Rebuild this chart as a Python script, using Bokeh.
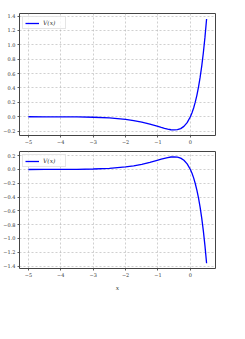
from bokeh.plotting import figure
from bokeh.layouts import column
from bokeh.models import Range1d, FixedTicker, Legend, LegendItem
from bokeh.embed import file_html
from bokeh.resources import INLINE

x_vals = [-5.0, -4.5, -4.0, -3.5, -3.0, -2.5, -2.0, -1.75, -1.5, -1.25, -1.0, -0.9, -0.8, -0.7, -0.6,
          -0.5, -0.4, -0.3, -0.2, -0.1, 0.0, 0.05, 0.1, 0.15, 0.2, 0.25, 0.3, 0.35, 0.4, 0.45, 0.5]
v_top = [-0.000, -0.001, -0.001, -0.003, -0.007, -0.017, -0.037, -0.053, -0.075, -0.103, -0.135, -0.149,
         -0.162, -0.173, -0.181, -0.184, -0.180, -0.165, -0.134, -0.082, 0.000, 0.055, 0.122, 0.203,
         0.298, 0.412, 0.547, 0.705, 0.890, 1.107, 1.359]
v_bottom = [0.000, 0.001, 0.001, 0.003, 0.007, 0.017, 0.037, 0.053, 0.075, 0.103, 0.135, 0.149,
            0.162, 0.173, 0.181, 0.184, 0.180, 0.165, 0.134, 0.082, 0.000, -0.055, -0.122, -0.203,
            -0.298, -0.412, -0.547, -0.705, -0.890, -1.107, -1.359]
x_ticks = [-5, -4, -3, -2, -1, 0]
y_ticks_top = [-0.2, 0.0, 0.2, 0.4, 0.6, 0.8, 1.0, 1.2, 1.4]
y_ticks_bottom = [-1.4, -1.2, -1.0, -0.8, -0.6, -0.4, -0.2, 0.0, 0.2]
legend_label = "V(x)"
x_label = "x"

FONT = "DejaVu Serif"


def fmt(v, dec):
    s = f"{v:.{dec}f}"
    return s.replace("-", "\u2212")


def make(yv, yticks, yr, height, top_border, bottom_border, xlabel=None):
    p = figure(width=237, height=height, output_backend="svg", toolbar_location=None,
               x_range=Range1d(-5.275, 0.775), y_range=Range1d(*yr),
               min_border_left=19, min_border_right=22, min_border_top=top_border,
               min_border_bottom=bottom_border)
    r = p.line(x_vals, yv, line_color="#0000ff", line_width=1.3)
    for ax in (p.xaxis[0], p.yaxis[0]):
        ax.axis_line_color = None
        ax.major_tick_line_color = "#333333"
        ax.major_tick_line_width = 0.8
        ax.major_tick_out = 2
        ax.major_tick_in = 0
        ax.minor_tick_line_color = None
        ax.major_label_text_font = FONT
        ax.major_label_text_font_size = "5px"
        ax.major_label_text_color = "#333333"
        ax.major_label_standoff = 2
    p.xaxis.ticker = FixedTicker(ticks=x_ticks)
    p.xaxis.major_label_overrides = {t: fmt(t, 0) for t in x_ticks}
    p.yaxis.ticker = FixedTicker(ticks=yticks)
    p.yaxis.major_label_overrides = {t: fmt(t, 1) for t in yticks}
    if xlabel:
        p.xaxis.axis_label = xlabel
        p.xaxis.axis_label_text_font = FONT
        p.xaxis.axis_label_text_font_style = "italic"
        p.xaxis.axis_label_text_font_size = "6px"
        p.xaxis.axis_label_standoff = 4
        p.xaxis.axis_label_text_color = "#333333"
    for g in (p.xgrid[0], p.ygrid[0]):
        g.grid_line_color = "#b0b0b0"
        g.grid_line_dash = "2 2"
        g.grid_line_width = 0.6
    p.outline_line_color = "#444444"
    p.outline_line_width = 1
    leg = Legend(items=[LegendItem(label=legend_label, renderers=[r])], location="top_left")
    leg.label_text_font = FONT
    leg.label_text_font_style = "italic"
    leg.label_text_font_size = "6px"
    leg.label_text_color = "#333333"
    leg.glyph_width = 14
    leg.glyph_height = 6
    leg.label_height = 6
    leg.label_standoff = 4
    leg.padding = 2
    leg.spacing = 0
    leg.margin = 3
    leg.border_line_color = "#cccccc"
    leg.border_line_width = 0.8
    leg.background_fill_alpha = 0.8
    p.add_layout(leg)
    return p


p1 = make(v_top, y_ticks_top, (-0.261, 1.436), 146, 13, 11)
p2 = make(v_bottom, y_ticks_bottom, (-1.436, 0.261), 147, 5, 20, xlabel=x_label)
p = column(p1, p2, spacing=0)

open("out.html", "w").write(file_html(p, INLINE))
